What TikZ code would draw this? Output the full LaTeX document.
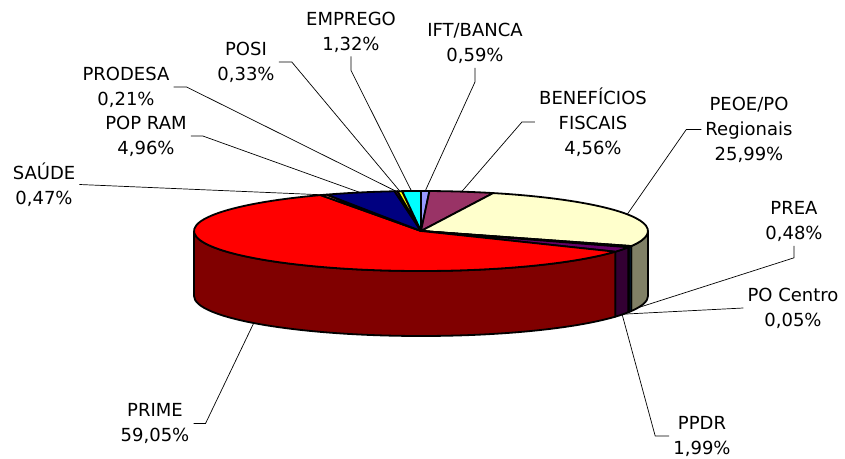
\documentclass[tikz,border=0pt]{standalone}
\usepackage{fontspec}
\setmainfont{DejaVu Sans}
\usetikzlibrary{calc}

\definecolor{iftTop}{HTML}{9999FF}
\definecolor{benefTop}{HTML}{993366}
\definecolor{peoeTop}{HTML}{FFFFCC}
\definecolor{peoeSide}{HTML}{808066}
\definecolor{preaTop}{HTML}{0066CC}
\definecolor{preaSide}{HTML}{003366}
\definecolor{pocTop}{HTML}{800080}
\definecolor{pocSide}{HTML}{400040}
\definecolor{ppdrTop}{HTML}{660066}
\definecolor{ppdrSide}{HTML}{330033}
\definecolor{primeTop}{HTML}{FF0000}
\definecolor{primeSide}{HTML}{800000}
\definecolor{saudeTop}{HTML}{FF8080}
\definecolor{popramTop}{HTML}{000080}
\definecolor{prodesaTop}{HTML}{800080}
\definecolor{posiTop}{HTML}{FFFF00}
\definecolor{empregoTop}{HTML}{00FFFF}

\begin{document}
\begin{tikzpicture}
[x=1pt,y=1pt,
  sliceDecorate/.style={draw=black,line width=1.8pt,line join=round},
  leaderDecorate/.style={draw=black,line width=0.7pt},
  labelDecorate/.style={align=center,inner sep=4pt,font=\fontsize{18}{25}\selectfont}]
\useasboundingbox (0,0) rectangle (845,458);
\coordinate (c) at (421,227);
%% sides of the front slices
\foreach \from/\to/\col in {
  0/-22.104/peoeSide,
  -22.104/-23.832/preaSide,
  -23.832/-24.012/pocSide,
  -24.012/-31.176/ppdrSide,
  -31.176/-180/primeSide}
{
  \filldraw[sliceDecorate,fill=\col] ($(c)+(\from:227 and 40)$)
    arc[start angle=\from,end angle=\to,x radius=227,y radius=40] -- ++(0,-65)
    arc[start angle=\to,end angle=\from,x radius=227,y radius=40] -- cycle;
}
%% top faces of the slices
\foreach \from/\to/\col in {
  90/87.876/iftTop,
  87.876/71.46/benefTop,
  71.46/-22.104/peoeTop,
  -22.104/-23.832/preaTop,
  -23.832/-24.012/pocTop,
  -24.012/-31.176/ppdrTop,
  -31.176/-243.756/primeTop,
  -243.756/-245.448/saudeTop,
  -245.448/-263.304/popramTop,
  -263.304/-264.06/prodesaTop,
  -264.06/-265.248/posiTop,
  -265.248/-270/empregoTop}
{
  \filldraw[sliceDecorate,fill=\col] (c) -- ($(c)+(\from:227 and 40)$)
    arc[start angle=\from,end angle=\to,x radius=227,y radius=40] -- cycle;
}
%% points where the leaders touch the pie
\foreach \name/\ang/\dz in {
  ift/88.94/0, benef/79.67/0, peoe/24.68/0, prea/-17/65, poc/-27/65,
  ppdr/-27.6/65, prime/-137.47/65, saude/115.4/0, popram/105.6/0,
  prodesa/96.32/0, posi/95.35/0, emprego/92.4/0}
{
  \coordinate (\name-pt) at ($(c)+(\ang:227 and 40)+(0,-\dz)$);
}
%% labels
\node[labelDecorate] (emprego) at (351,426) {EMPREGO\\1,32\%};
\node[labelDecorate] (posi) at (246,396) {POSI\\0,33\%};
\node[labelDecorate] (prodesa) at (126,371) {PRODESA\\0,21\%};
\node[labelDecorate] (popram) at (146,322) {POP RAM\\4,96\%};
\node[labelDecorate] (saude) at (44,273.5) {SAÚDE\\0,47\%};
\node[labelDecorate] (ift) at (475,414.5) {IFT/BANCA\\0,59\%};
\node[labelDecorate] (benef) at (593,336) {BENEFÍCIOS\\FISCAIS\\4,56\%};
\node[labelDecorate] (peoe) at (749,328.5) {PEOE/PO\\Regionais\\25,99\%};
\node[labelDecorate] (prea) at (794,236.5) {PREA\\0,48\%};
\node[labelDecorate] (poc) at (793,150) {PO Centro\\0,05\%};
\node[labelDecorate] (prime) at (155,34.5) {PRIME\\59,05\%};
\node[labelDecorate] (ppdr) at (702,22) {PPDR\\1,99\%};
%% leaders
\draw[leaderDecorate] (saude.east) -- (saude-pt);
\draw[leaderDecorate] (popram.east) -- ++(12,0) -- (popram-pt);
\draw[leaderDecorate] (prodesa.east) -- ++(13,0) -- (prodesa-pt);
\draw[leaderDecorate] (posi.east) -- ++(13,0) -- (posi-pt);
\draw[leaderDecorate] (emprego.south) -- ++(0,-14) -- (emprego-pt);
\draw[leaderDecorate] (ift.south) -- ++(0,-14) -- (ift-pt);
\draw[leaderDecorate] (benef.west) -- ++(-13,0) -- (benef-pt);
\draw[leaderDecorate] (peoe.west) -- ++(-15,0) -- (peoe-pt);
\draw[leaderDecorate] (prea.south) -- ++(0,-12) -- (prea-pt);
\draw[leaderDecorate] (poc.west) -- (poc-pt);
\draw[leaderDecorate] (ppdr.west) -- ++(-14,0) -- (ppdr-pt);
\draw[leaderDecorate] (prime.east) -- ++(12,0) -- (prime-pt);
\end{tikzpicture}
\end{document}
